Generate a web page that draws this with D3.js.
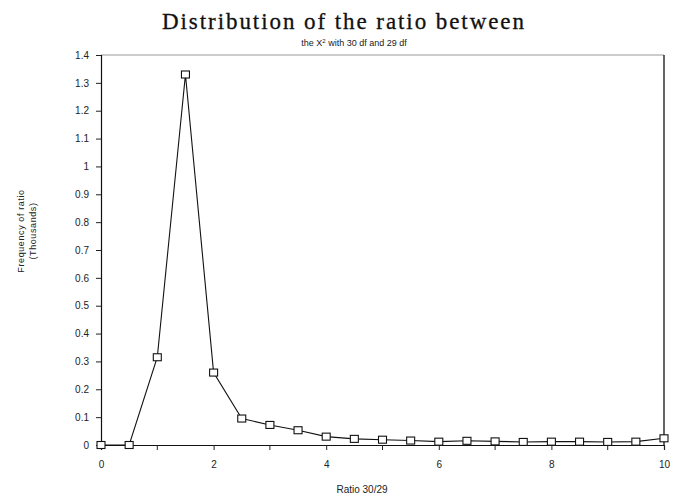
<!DOCTYPE html>
<html>
<head>
<meta charset="utf-8">
<script src="https://cdn.jsdelivr.net/npm/d3@7"></script>
<style>
  body { margin: 0; background: #fff; }
  svg { display: block; }
</style>
</head>
<body>
<svg id="chart" width="687" height="498"></svg>
<script>
// ratio bins (x) and frequency in thousands (y)
let ratios = [0, 0.5, 1, 1.5, 2, 2.5, 3, 3.5, 4, 4.5, 5, 5.5, 6, 6.5, 7, 7.5, 8, 8.5, 9, 9.5, 10]
let frequency = [0, 0, 0.315, 1.33, 0.26, 0.095, 0.072, 0.053, 0.03, 0.022, 0.019, 0.016, 0.012, 0.015, 0.013, 0.011, 0.012, 0.012, 0.011, 0.012, 0.024]
let xTicks = [0, 2, 4, 6, 8, 10]
let xMinorTicks = [1, 3, 5, 7, 9]
let yTicks = [0, 0.1, 0.2, 0.3, 0.4, 0.5, 0.6, 0.7, 0.8, 0.9, 1, 1.1, 1.2, 1.3, 1.4]

let svg = d3.select('#chart')
let plotLeft = 101
let plotRight = 664
let plotTop = 55
let plotBottom = 445

let x = d3.scaleLinear().domain([0, 10]).range([plotLeft, plotRight])
let y = d3.scaleLinear().domain([0, 1.4]).range([plotBottom, plotTop])

let tickFont = 'Liberation Sans, Arial, sans-serif'

// title, spread out like the old plotter font
svg.append('text')
  .attr('x', 343).attr('y', 29)
  .attr('text-anchor', 'middle')
  .attr('textLength', 362)
  .attr('lengthAdjust', 'spacing')
  .style('font-family', 'Liberation Serif, Times New Roman, serif')
  .style('font-size', '23px')
  .style('fill', '#111')
  .style('stroke', '#111')
  .style('stroke-width', 0.3)
  .text('Distribution of the ratio between')

let sub = svg.append('text')
  .attr('x', 354).attr('y', 46)
  .attr('text-anchor', 'middle')
  .style('font-family', tickFont)
  .style('font-size', '9px')
  .style('fill', '#222')
sub.append('tspan').text('the X')
sub.append('tspan').attr('dy', -3).style('font-size', '6px').text('2')
sub.append('tspan').attr('dy', 3).text(' with 30 df and 29 df')

// frame: top and right
svg.append('line')
  .attr('x1', plotLeft).attr('x2', plotRight).attr('y1', plotTop).attr('y2', plotTop)
  .attr('stroke', '#999').attr('stroke-width', 1)
svg.append('line')
  .attr('x1', plotRight).attr('x2', plotRight).attr('y1', plotTop).attr('y2', plotBottom)
  .attr('stroke', '#111').attr('stroke-width', 1.3)

// y axis
let yAxis = d3.axisLeft(y)
  .tickValues(yTicks)
  .tickSize(5)
  .tickPadding(7)
  .tickFormat(d => d3.format('~g')(d))
svg.append('g')
  .attr('transform', 'translate(' + plotLeft + ',0)')
  .call(yAxis)

// x axis
let xAxis = d3.axisBottom(x)
  .tickValues(xTicks)
  .tickSize(5)
  .tickPadding(11)
  .tickFormat(d3.format('d'))
svg.append('g')
  .attr('transform', 'translate(0,' + plotBottom + ')')
  .call(xAxis)

svg.append('g')
  .attr('transform', 'translate(0,' + plotBottom + ')')
  .selectAll('line').data(xMinorTicks)
  .enter().append('line')
  .attr('x1', d => x(d)).attr('x2', d => x(d))
  .attr('y1', 0).attr('y2', 5)
  .attr('stroke', '#222')

svg.selectAll('.domain').attr('stroke', '#111').attr('stroke-width', 1.2)
svg.selectAll('.tick line').attr('stroke', '#222')
svg.selectAll('.tick text')
  .style('font-family', tickFont)
  .style('font-size', '10px')
  .style('fill', '#222')

// axis labels
svg.append('text')
  .attr('transform', 'translate(24,231) rotate(-90)')
  .attr('text-anchor', 'middle')
  .style('font-family', tickFont)
  .style('font-size', '9px')
  .style('letter-spacing', '0.6px')
  .style('fill', '#222')
  .text('Frequency of ratio')
svg.append('text')
  .attr('transform', 'translate(36,231) rotate(-90)')
  .attr('text-anchor', 'middle')
  .style('font-family', tickFont)
  .style('font-size', '9px')
  .style('letter-spacing', '0.6px')
  .style('fill', '#222')
  .text('(Thousands)')

svg.append('text')
  .attr('x', 362).attr('y', 493)
  .attr('text-anchor', 'middle')
  .style('font-family', tickFont)
  .style('font-size', '10px')
  .style('fill', '#222')
  .text('Ratio 30/29')

// series
let points = ratios.map((r, i) => [r, frequency[i]])
svg.append('path')
  .datum(points)
  .attr('fill', 'none')
  .attr('stroke', '#111')
  .attr('stroke-width', 1.1)
  .attr('d', d3.line().x(d => x(d[0])).y(d => y(d[1])))

svg.append('g').selectAll('rect').data(points)
  .enter().append('rect')
  .attr('x', d => x(d[0]) - 4)
  .attr('y', d => y(d[1]) - 3.5)
  .attr('width', 8)
  .attr('height', 7)
  .attr('fill', '#fff')
  .attr('stroke', '#111')
  .attr('stroke-width', 1.1)
</script>
</body>
</html>
